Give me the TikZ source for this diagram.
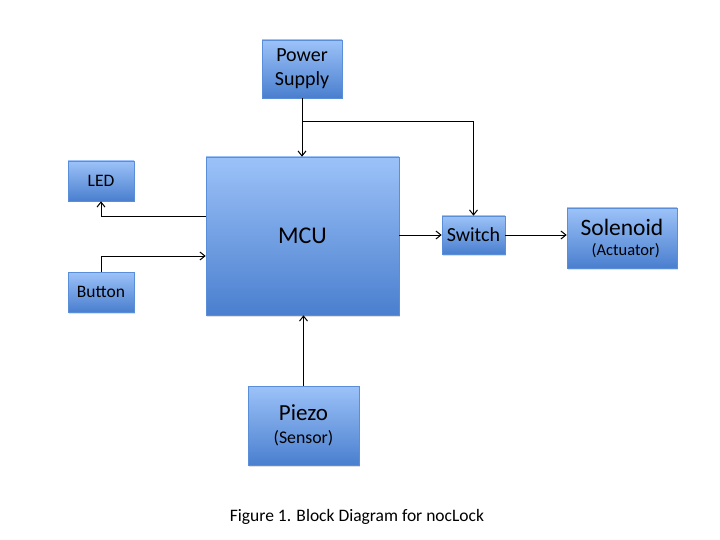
\documentclass[tikz,border=0pt]{standalone}
\usepackage{fontspec}
\setmainfont{Carlito}
\usetikzlibrary{arrows.meta,shadows}
\definecolor{boxtop}{HTML}{9CC2F8}
\definecolor{boxbot}{HTML}{4A7FCF}
\definecolor{boxline}{HTML}{5B8ED8}
\begin{document}
\begin{tikzpicture}[x=1pt,y=-1pt,
  blk/.style={rectangle, inner sep=0pt, align=center, top color=boxtop, bottom color=boxbot,
    draw=boxline, line width=0.6pt,
    drop shadow={opacity=0.25, shadow xshift=1pt, shadow yshift=-1.5pt}},
  arr/.style={-{Straight Barb[length=5pt,width=8pt]}, line width=1pt, draw=black}]
\useasboundingbox (0,0) rectangle (720,540);
\node[blk, minimum width=80pt, minimum height=58pt, font=\fontsize{20}{24}\selectfont] (pow) at (302,69) {Power\\Supply};
\node[blk, minimum width=66pt, minimum height=40pt, font=\fontsize{17.5}{20}\selectfont] (led) at (101,181) {LED};
\node[blk, minimum width=66pt, minimum height=40pt, font=\fontsize{17.5}{20}\selectfont] (btn) at (101,292) {Button};
\node[blk, minimum width=193pt, minimum height=158pt, font=\fontsize{24}{28}\selectfont, text depth=-6pt] (mcu) at (302.5,236) {MCU};
\node[blk, minimum width=63pt, minimum height=38pt, font=\fontsize{20}{24}\selectfont] (sw) at (473.5,235) {Switch};
\node[blk, minimum width=110pt, minimum height=60pt, font={\fontsize{16.5}{20}\selectfont\lineskiplimit=-30pt}] (sol) at (622,238) {{\fontsize{23.5}{24}\selectfont Solenoid}\\ \ \ (Actuator)};
\node[blk, minimum width=111pt, minimum height=79pt, font={\fontsize{17.8}{23}\selectfont\lineskiplimit=-30pt}] (pz) at (303.5,425.5) {{\fontsize{23}{24}\selectfont Piezo}\\ (Sensor)};
\node[font=\fontsize{17.5}{21}\selectfont] (cap) at (357,517) {Figure 1. Block Diagram for nocLock};
\coordinate (j) at (302,122);
\draw[arr] (pow.south) -- (pow.south |- mcu.north);
\draw[arr] (j) -| (sw.north);
\draw[arr] ([yshift=19pt]mcu.west) -| (led.south);
\draw[arr] (btn.north) |- ([yshift=-20pt]mcu.west);
\draw[arr] (mcu.east |- sw.west) -- (sw.west);
\draw[arr] (sw.east) -- (sw.east -| sol.west);
\draw[arr] (pz.north) -- (pz.north |- mcu.south);
\end{tikzpicture}
\end{document}
